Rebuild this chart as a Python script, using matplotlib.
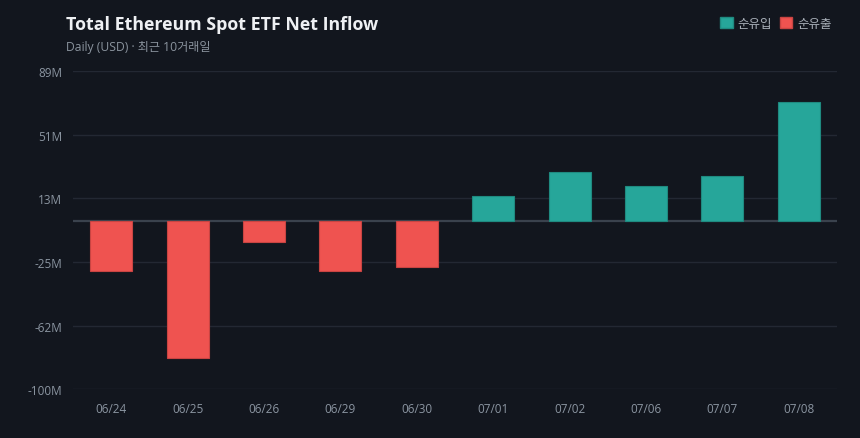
import numpy as np
import matplotlib.pyplot as plt
from matplotlib.patches import Patch

# data (M USD)
dates = ["06/24", "06/25", "06/26", "06/29", "06/30", "07/01", "07/02", "07/06", "07/07", "07/08"]
flows = [-29.8, -81.5, -12.8, -29.8, -27.4, 14.9, 29.1, 20.7, 26.7, 70.4]
y_ticks = [89, 51.2, 13.4, -24.8, -62.6, -100]
y_labels = ["89M", "51M", "13M", "-25M", "-62M", "-100M"]

BG = "#12161e"
GREEN = "#26a69a"
RED = "#ef5350"
TXT = "#8b95a1"

plt.rcParams['font.family'] = ['Open Sans', 'Noto Sans CJK KR', 'DejaVu Sans']

fig = plt.figure(figsize=(8.6, 4.39), dpi=100, facecolor=BG)
ax = fig.add_axes([0.0849, 0.1116, 0.8884, 0.7244])
ax.set_facecolor(BG)

x = np.arange(len(dates))
colors = [GREEN if v >= 0 else RED for v in flows]
edges = ["#1f8a80" if v >= 0 else "#c94442" for v in flows]
ax.bar(x, flows, width=0.55, color=colors, edgecolor=edges, linewidth=0.8, zorder=3)

ax.set_xlim(-0.5, len(dates) - 0.5)
ax.set_ylim(-100, 89)
ax.set_yticks(y_ticks)
ax.set_yticklabels(y_labels)
ax.set_xticks(x)
ax.set_xticklabels(dates)
ax.tick_params(axis='both', length=0, colors=TXT, labelsize=8.5)
ax.tick_params(axis='y', pad=8)
ax.tick_params(axis='x', pad=9)
ax.grid(axis='y', color="#232833", linewidth=1, zorder=0)
ax.axhline(0, color="#3a424d", linewidth=1.6, zorder=2)
for s in ax.spines.values():
    s.set_visible(False)

fig.text(66 / 860, 1 - 25 / 439, "Total Ethereum Spot ETF Net Inflow", color="#eef0f3",
         fontsize=12.8, fontweight='bold', va='center', ha='left')
fig.text(66 / 860, 1 - 47 / 439, "Daily (USD) · 최근 10거래일", color="#8b949e",
         fontsize=8.7, va='center', ha='left')

handles = [Patch(facecolor=GREEN, edgecolor="#1f8a80", label="순유입"),
           Patch(facecolor=RED, edgecolor="#c94442", label="순유출")]
fig.legend(handles=handles, loc='upper right', bbox_to_anchor=(0.98, 0.985), ncol=2,
           frameon=False, handlelength=1.0, handleheight=1.0, handletextpad=0.4,
           columnspacing=0.6, labelcolor="#a9b0b9", fontsize=9)

plt.savefig("out.png", dpi=100, facecolor=BG)
